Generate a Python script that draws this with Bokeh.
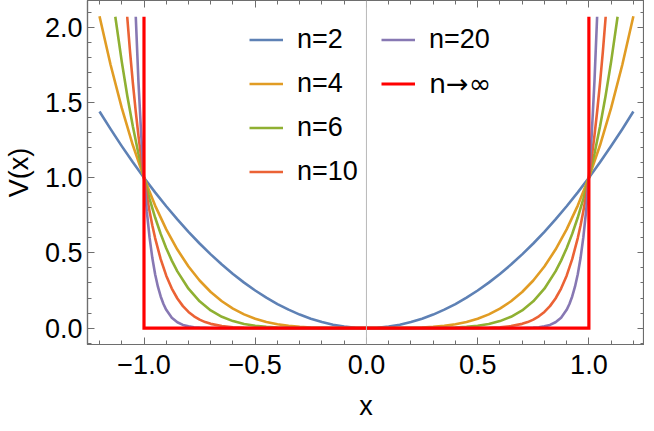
from bokeh.plotting import figure
from bokeh.models import (Range1d, LinearAxis, SingleIntervalTicker, FixedTicker,
                          NumeralTickFormatter, Legend, LegendItem, Span)
from bokeh.embed import file_html
from bokeh.resources import INLINE

# ---- data (right half, x >= 0; every curve is symmetric about x = 0) ----
x2 = [0, 0.05, 0.1, 0.15, 0.2, 0.25, 0.3, 0.35, 0.4, 0.45, 0.5, 0.55, 0.6, 0.65, 0.7, 0.75,
      0.8, 0.85, 0.9, 0.95, 1.0, 1.05, 1.1, 1.15, 1.2]
v2 = [0, 0.0025, 0.01, 0.0225, 0.04, 0.0625, 0.09, 0.1225, 0.16, 0.2025, 0.25, 0.3025, 0.36,
      0.4225, 0.49, 0.5625, 0.64, 0.7225, 0.81, 0.9025, 1.0, 1.1025, 1.21, 1.3225, 1.44]

x4 = [0, 0.05, 0.1, 0.15, 0.2, 0.25, 0.3, 0.35, 0.4, 0.45, 0.5, 0.55, 0.6, 0.65, 0.7, 0.75,
      0.8, 0.85, 0.9, 0.95, 1.0, 1.05, 1.1, 1.15, 1.2]
v4 = [0, 0.00000625, 0.0001, 0.000506, 0.0016, 0.003906, 0.0081, 0.015006, 0.0256, 0.041006,
      0.0625, 0.091506, 0.1296, 0.178506, 0.2401, 0.316406, 0.4096, 0.522006, 0.6561,
      0.814506, 1.0, 1.215506, 1.4641, 1.749006, 2.0736]

x6 = [0, 0.1, 0.2, 0.25, 0.3, 0.35, 0.4, 0.45, 0.5, 0.55, 0.6, 0.65, 0.7, 0.75, 0.8, 0.85,
      0.875, 0.9, 0.925, 0.95, 0.975, 1.0, 1.025, 1.05, 1.075, 1.1, 1.129]
v6 = [0, 0.000001, 0.000064, 0.000244, 0.000729, 0.001838, 0.004096, 0.008304, 0.015625,
      0.027681, 0.046656, 0.075419, 0.117649, 0.177979, 0.262144, 0.377150, 0.448795,
      0.531441, 0.626403, 0.735092, 0.859069, 1.0, 1.159693, 1.340096, 1.543302, 1.771561,
      2.07]

x10 = [0, 0.3, 0.4, 0.45, 0.5, 0.55, 0.6, 0.65, 0.7, 0.725, 0.75, 0.775, 0.8, 0.825, 0.85,
       0.875, 0.9, 0.925, 0.95, 0.9625, 0.975, 0.9875, 1.0, 1.0125, 1.025, 1.0375, 1.05,
       1.0625, 1.0755]
v10 = [0, 0.0000059, 0.000105, 0.000341, 0.000977, 0.002533, 0.006047, 0.013463, 0.028248,
       0.040132, 0.056314, 0.078179, 0.107374, 0.146050, 0.196874, 0.263076, 0.348678,
       0.458582, 0.598737, 0.682350, 0.776330, 0.881810, 1.0, 1.132270, 1.280085, 1.445070,
       1.628895, 1.833590, 2.07]

x20 = [0, 0.5, 0.6, 0.65, 0.7, 0.725, 0.75, 0.775, 0.8, 0.825, 0.85, 0.875, 0.9, 0.9125,
       0.925, 0.9375, 0.95, 0.9625, 0.975, 0.9875, 1.0, 1.0125, 1.025, 1.037]
v20 = [0, 0.00000095, 0.0000366, 0.000181, 0.000798, 0.001611, 0.003171, 0.006112, 0.011529,
       0.021331, 0.038760, 0.069210, 0.121577, 0.160190, 0.210297, 0.275060, 0.358486,
       0.465600, 0.602688, 0.777570, 1.0, 1.282030, 1.638616, 2.07]

x_inf = [-1.0, -1.0, 1.0, 1.0]
v_inf = [2.07, 0.0, 0.0, 2.07]

labels = ["n=2", "n=4", "n=6", "n=10", "n=20", "n\u2192\u221e"]
colors = ["#5E81B5", "#E19C24", "#8FB032", "#EB6235", "#8778B3", "#FF0000"]

xtick_values = [-1.0, -0.5, 0.0, 0.5, 1.0]
xtick_labels = ["\u22121.0", "\u22120.5", "0.0", "0.5", "1.0"]
ytick_values = [0.0, 0.5, 1.0, 1.5, 2.0]

FONT = "Liberation Sans"
FS = "27px"
GRAY = "#6e6e6e"


def mirrored(xh, yh):
    xs = [-v for v in reversed(xh[1:])] + list(xh)
    ys = list(reversed(yh[1:])) + list(yh)
    return xs, ys


p = figure(frame_width=557, frame_height=344, output_backend="svg", toolbar_location=None,
           x_range=Range1d(-1.254, 1.25), y_range=Range1d(-0.109, 2.178),
           min_border_left=76, min_border_right=0, min_border_top=0, min_border_bottom=0,
           x_axis_label="x", y_axis_label="V(x)")
p.grid.visible = False
p.outline_line_color = GRAY
p.outline_line_width = 1.2
p.background_fill_color = "white"
p.border_fill_color = "white"

# thin axis line at x = 0
p.add_layout(Span(location=0, dimension="height", line_color="#b8b8b8", line_width=1))

renderers = []
for (xh, yh), c in zip([(x2, v2), (x4, v4), (x6, v6), (x10, v10), (x20, v20)], colors[:5]):
    xs, ys = mirrored(xh, yh)
    renderers.append(p.line(xs, ys, line_color=c, line_width=2.6, line_join="round"))
renderers.append(p.line(x_inf, v_inf, line_color=colors[5], line_width=3.2, line_join="miter"))


def style_axis(ax):
    ax.axis_line_color = GRAY
    ax.axis_line_width = 1.2
    ax.major_tick_line_color = GRAY
    ax.minor_tick_line_color = GRAY
    ax.major_tick_in = 7
    ax.major_tick_out = 0
    ax.minor_tick_in = 4
    ax.minor_tick_out = 0
    ax.major_label_text_font = FONT
    ax.major_label_text_font_size = FS
    ax.major_label_text_color = "black"
    ax.axis_label_text_font = FONT
    ax.axis_label_text_font_size = FS
    ax.axis_label_text_font_style = "normal"
    ax.axis_label_text_color = "black"


xb = p.xaxis[0]
yl = p.yaxis[0]
xb.ticker = SingleIntervalTicker(interval=0.5, num_minor_ticks=5)
yl.ticker = SingleIntervalTicker(interval=0.5, num_minor_ticks=5)
xb.major_label_overrides = {v: s for v, s in zip(xtick_values, xtick_labels)}
yl.formatter = NumeralTickFormatter(format="0.0")
style_axis(xb)
style_axis(yl)
xb.major_label_standoff = 10
xb.axis_label_standoff = 14
yl.major_label_standoff = 5
yl.axis_label_standoff = 8

# mirrored tick marks on the top and right frame edges (no labels)
x_minor = [round(i / 10, 1) for i in range(-12, 13) if i % 5 != 0]
y_minor = [round(i / 10, 1) for i in range(-1, 22) if i % 5 != 0]
for side, majors, minors in (("above", xtick_values, x_minor), ("right", ytick_values, y_minor)):
    for pos, length in ((majors, 7), (minors, 4)):
        ax = LinearAxis(ticker=FixedTicker(ticks=[], minor_ticks=pos))
        ax.axis_line_color = GRAY
        ax.axis_line_width = 1.2
        ax.minor_tick_line_color = GRAY
        ax.minor_tick_in = length
        ax.minor_tick_out = 0
        ax.major_tick_out = 0
        ax.major_tick_in = 0
        ax.major_label_standoff = 0
        p.add_layout(ax, side)


def make_legend(items, loc, font):
    return Legend(items=items, location=loc, orientation="vertical",
                  label_text_font=font, label_text_font_size=FS, label_text_color="black",
                  glyph_width=34, glyph_height=31, label_height=31, label_standoff=14,
                  spacing=13, padding=0, margin=0,
                  background_fill_alpha=0, border_line_alpha=0)


items1 = [LegendItem(label=labels[i], renderers=[renderers[i]]) for i in range(4)]
items2 = [LegendItem(label=labels[4], renderers=[renderers[4]])]
items3 = [LegendItem(label=labels[5], renderers=[renderers[5]])]
p.add_layout(make_legend(items1, (162, 157), FONT), "center")
p.add_layout(make_legend(items2, (294, 289), FONT), "center")
p.add_layout(make_legend(items3, (294, 245), "DejaVu Sans"), "center")

open("out.html", "w").write(file_html(p, INLINE))
